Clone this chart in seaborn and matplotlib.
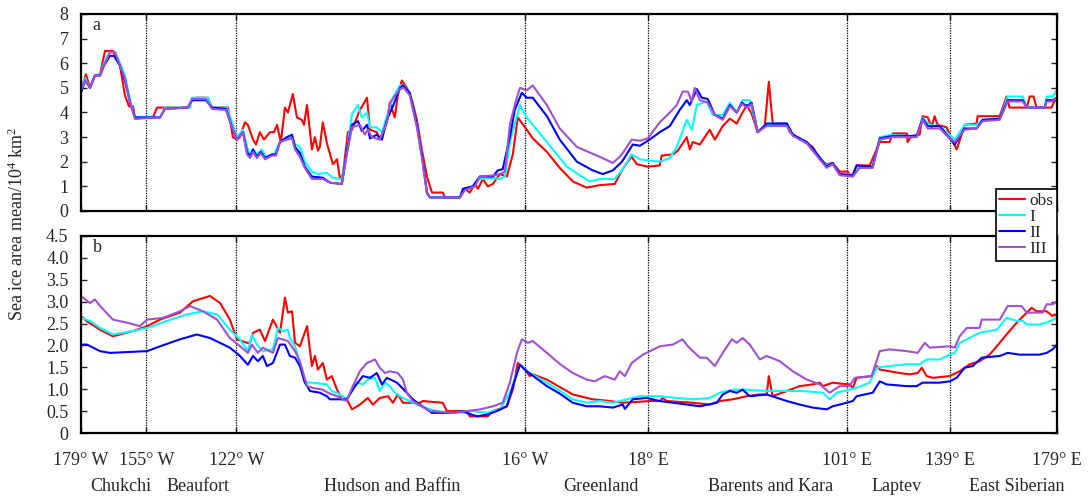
import matplotlib
matplotlib.use("Agg")
import matplotlib.pyplot as plt
import seaborn as sns
import pandas as pd

# ---------------- data (longitude in degrees, sea-ice area in 10^4 km^2) ----------------
a_obs_lon = [-179.0,-177.2,-175.7,-173.9,-172.0,-170.2,-167.3,-164.7,-162.9,-161.4,-159.9,-159.2,-152.6,-151.1,-139.8,-138.3,-136.8,-132.4,-131.0,-125.1,-123.3,-121.8,-120.7,-118.9,-117.8,-115.9,-114.8,-113.4,-111.9,-109.7,-108.2,-107.1,-105.7,-104.2,-103.1,-101.3,-99.8,-98.0,-97.2,-96.1,-94.3,-93.2,-92.1,-91.4,-90.3,-88.8,-86.6,-85.1,-84.0,-82.9,-81.1,-79.6,-76.7,-74.1,-73.0,-70.5,-69.4,-66.8,-65.7,-63.9,-62.8,-61.3,-59.5,-57.6,-55.8,-54.0,-52.1,-50.3,-46.3,-45.5,-40.0,-38.2,-36.4,-34.5,-33.4,-31.6,-29.8,-27.9,-25.4,-22.8,-20.6,-18.8,-15.5,-13.3,-8.1,-3.4,1.4,6.5,11.3,16.8,19.4,21.2,23.0,24.9,28.9,33.3,34.0,38.1,39.9,43.2,44.3,45.4,48.0,51.6,53.5,56.4,59.0,61.5,63.4,65.2,67.0,69.2,71.8,73.3,74.7,79.9,81.0,85.7,89.4,92.0,94.5,96.7,99.3,102.2,103.7,105.5,110.3,114.0,117.6,118.7,123.9,124.2,125.7,128.6,129.7,131.6,133.0,134.1,135.2,138.5,140.4,142.2,144.0,145.1,149.5,149.9,158.0,160.5,161.6,167.9,169.0,170.4,171.5,177.0,177.8,179.0]
a_obs = [4.9,5.55,5.0,5.5,5.55,6.5,6.5,5.9,4.7,4.25,4.25,3.75,3.8,4.2,4.2,4.5,4.6,4.6,4.2,4.2,3.0,2.9,3.0,3.6,3.5,2.9,2.7,3.2,2.9,3.2,3.2,3.5,2.8,4.2,4.0,4.75,3.8,3.7,3.5,4.3,2.5,3.0,2.45,2.6,3.6,2.75,1.9,2.1,1.3,1.5,3.2,3.3,4.1,4.6,3.3,3.2,2.9,3.6,4.4,3.8,4.7,5.3,5.0,4.5,3.7,2.5,1.4,0.75,0.75,0.55,0.55,0.9,0.75,1.1,0.9,1.3,1.0,1.1,1.5,1.4,2.3,3.8,3.3,2.95,2.4,1.75,1.2,0.95,1.05,1.1,1.65,1.95,2.2,1.9,1.8,1.85,2.25,2.3,2.45,3.0,2.5,2.8,2.7,3.3,2.9,3.45,3.75,3.55,3.95,4.3,3.95,3.2,3.45,5.25,3.55,3.55,3.2,2.85,2.6,2.1,1.9,1.95,1.6,1.6,1.4,1.85,1.85,2.8,2.8,3.15,3.15,2.8,3.05,3.1,3.85,3.8,3.4,3.85,3.5,3.4,2.9,2.5,3.1,3.5,3.55,3.85,3.85,4.65,4.2,4.2,4.65,4.65,4.2,4.2,4.4,4.6]

a_I_lon = [-179.0,-177.5,-175.7,-173.9,-172.0,-170.2,-168.4,-166.5,-164.7,-162.9,-161.0,-159.2,-150.0,-148.2,-139.0,-138.3,-132.4,-131.0,-125.5,-123.6,-121.8,-119.6,-118.1,-117.0,-115.9,-114.5,-112.6,-111.2,-108.2,-106.0,-103.5,-101.6,-100.5,-98.7,-96.9,-94.3,-92.1,-88.8,-86.6,-83.3,-81.5,-79.6,-77.4,-76.0,-74.1,-73.0,-70.5,-68.6,-66.4,-64.6,-62.0,-60.6,-58.4,-55.8,-54.0,-52.1,-51.0,-40.0,-38.9,-35.3,-33.4,-31.6,-29.0,-25.4,-23.5,-21.7,-18.0,-15.5,-10.7,-5.9,-0.8,4.0,7.6,11.3,16.8,19.7,23.0,26.0,33.3,37.0,39.5,43.2,45.0,46.9,50.5,52.7,56.4,59.0,61.5,63.7,66.3,69.2,72.5,79.9,82.1,87.2,94.5,96.7,99.3,104.1,106.6,111.4,114.0,118.7,127.5,129.7,132.3,136.0,138.5,141.5,145.1,149.5,151.7,158.0,160.9,166.4,167.9,174.5,175.2,177.4,179.0]
a_I = [5.0,5.4,5.0,5.5,5.55,6.1,6.45,6.45,6.0,5.5,4.5,3.8,3.8,4.2,4.2,4.6,4.6,4.2,4.2,3.6,3.0,3.3,2.6,2.3,2.5,2.3,2.5,2.2,2.3,2.8,2.95,3.0,2.7,2.6,2.0,1.6,1.5,1.55,1.35,1.3,2.4,3.95,4.3,3.8,4.0,3.4,3.4,3.2,4.0,4.6,5.1,5.1,4.8,3.5,2.3,0.75,0.55,0.55,0.9,1.0,1.3,1.3,1.35,1.3,1.4,2.8,4.3,3.8,3.15,2.5,1.8,1.45,1.2,1.3,1.3,1.7,2.3,2.1,2.0,2.15,2.6,3.7,3.3,4.3,4.45,3.9,3.9,4.4,4.0,4.5,4.5,3.2,3.55,3.55,3.1,2.8,1.85,1.95,1.5,1.5,1.8,1.8,3.0,3.1,3.0,3.8,3.5,3.45,3.2,2.9,3.5,3.5,3.7,3.75,4.65,4.65,4.2,4.2,4.65,4.65,4.9]

a_II_lon = [-179.0,-177.5,-175.7,-173.9,-172.0,-170.6,-168.4,-166.9,-164.7,-162.9,-161.0,-159.2,-150.0,-148.2,-139.8,-138.3,-133.2,-131.0,-125.8,-123.6,-121.8,-119.6,-118.1,-117.0,-115.9,-114.5,-113.0,-111.5,-109.0,-107.5,-106.0,-103.5,-101.6,-100.5,-98.7,-96.9,-94.3,-90.3,-87.7,-83.3,-81.5,-79.6,-77.4,-76.0,-74.1,-73.0,-70.5,-68.6,-66.8,-64.6,-62.0,-60.9,-58.4,-55.8,-54.0,-52.1,-51.0,-40.0,-38.9,-35.3,-32.7,-27.9,-26.1,-24.3,-21.7,-19.9,-17.3,-15.5,-13.3,-8.1,-3.4,2.9,8.7,12.4,16.1,19.4,23.4,26.0,28.9,33.3,37.0,40.6,43.2,44.3,46.9,48.7,50.9,53.5,56.4,59.0,61.5,63.4,65.2,67.0,69.2,72.5,79.9,82.1,87.2,89.4,94.5,96.7,99.3,104.1,105.5,111.4,114.0,118.7,127.5,129.7,131.6,136.0,139.6,141.5,145.1,149.5,151.7,158.0,160.9,166.4,167.9,174.5,175.2,177.4,179.0]
a_II = [4.8,5.3,5.0,5.5,5.5,5.9,6.3,6.3,5.9,5.3,4.4,3.8,3.8,4.15,4.2,4.5,4.5,4.2,4.15,3.4,2.9,3.2,2.4,2.2,2.5,2.2,2.4,2.15,2.3,2.3,2.8,3.0,3.1,2.6,2.35,1.8,1.4,1.35,1.15,1.1,2.4,3.5,3.65,3.25,3.5,2.95,3.1,2.9,3.7,4.25,5.0,5.1,4.8,3.5,2.3,0.75,0.55,0.55,0.9,1.0,1.4,1.4,1.65,1.7,3.0,4.1,4.8,4.6,4.6,3.85,2.9,2.0,1.65,1.5,1.65,2.0,2.7,2.65,2.85,3.2,3.45,4.1,4.5,4.3,4.95,4.6,4.55,3.9,3.75,4.3,4.0,4.4,4.25,4.4,3.2,3.55,3.55,3.1,2.8,2.55,1.8,1.95,1.5,1.45,1.85,1.8,2.95,3.05,3.05,3.75,3.45,3.45,2.95,2.7,3.35,3.35,3.7,3.75,4.5,4.5,4.2,4.2,4.5,4.5,4.6]

a_III_lon = [-179.0,-177.5,-175.7,-173.9,-172.0,-170.2,-168.4,-166.5,-164.7,-162.9,-161.0,-159.2,-150.0,-148.2,-139.8,-138.3,-133.2,-131.0,-125.8,-123.6,-121.8,-119.6,-118.1,-117.0,-115.9,-114.5,-113.0,-111.5,-109.0,-107.5,-106.0,-103.5,-101.6,-100.5,-98.7,-96.9,-94.3,-90.3,-87.7,-83.3,-81.5,-79.6,-76.7,-74.9,-73.8,-72.3,-69.4,-66.8,-65.7,-62.0,-60.6,-58.4,-55.8,-54.0,-52.1,-51.0,-40.0,-38.2,-34.5,-32.7,-27.2,-25.4,-23.5,-21.7,-19.9,-18.0,-15.5,-13.3,-8.1,-3.4,2.9,11.3,16.1,18.6,19.7,23.0,26.0,28.9,33.3,37.0,39.5,41.7,43.6,45.0,46.1,48.0,50.9,53.5,56.4,59.0,61.5,63.4,65.2,67.0,69.2,72.5,79.9,82.1,87.2,94.5,96.7,99.3,104.1,106.6,111.4,114.0,118.7,127.5,129.7,131.6,136.0,139.6,141.5,145.1,149.5,151.7,158.0,160.9,166.4,167.9,174.5,175.2,177.4,179.0]
a_III = [4.9,5.3,5.0,5.5,5.5,6.0,6.45,6.45,5.9,5.4,4.4,3.75,3.8,4.15,4.2,4.55,4.55,4.15,4.1,3.4,2.9,3.2,2.3,2.15,2.4,2.15,2.35,2.1,2.25,2.25,2.8,2.9,2.95,2.5,2.2,1.75,1.3,1.3,1.15,1.1,2.3,3.4,3.5,3.1,3.3,3.0,2.9,3.6,4.4,4.95,5.0,4.7,3.4,2.2,0.7,0.55,0.55,0.85,1.0,1.4,1.45,1.5,1.6,3.5,4.3,5.0,4.9,5.1,4.3,3.35,2.6,2.2,1.95,2.2,2.35,2.9,2.85,2.95,3.6,4.0,4.3,4.85,4.85,4.45,5.0,4.5,4.4,3.9,3.7,4.25,4.0,4.35,4.2,4.35,3.2,3.45,3.45,3.05,2.75,1.75,1.9,1.45,1.4,1.75,1.75,2.9,3.0,3.0,3.7,3.35,3.35,2.95,2.8,3.3,3.35,3.65,3.7,4.45,4.45,4.2,4.2,4.45,4.45,4.6]

b_obs_lon = [-179.0,-176.8,-172.0,-167.3,-159.9,-154.8,-150.0,-142.7,-137.9,-131.7,-128.0,-124.4,-121.8,-118.1,-117.0,-115.9,-113.4,-111.5,-108.6,-106.0,-104.2,-103.1,-101.6,-100.5,-98.7,-96.1,-94.3,-93.2,-92.1,-90.3,-88.8,-87.0,-85.1,-83.3,-81.5,-79.6,-76.7,-73.8,-71.9,-69.4,-66.4,-64.6,-62.8,-60.9,-54.7,-53.6,-46.3,-44.8,-37.5,-36.4,-29.8,-27.9,-22.8,-20.6,-18.8,-16.2,-14.4,-13.3,-8.1,-3.4,1.4,8.7,15.0,19.7,29.6,33.3,34.4,35.9,45.4,51.6,55.3,60.1,65.2,70.0,72.5,73.3,74.7,79.9,84.6,89.4,92.0,93.1,96.7,99.3,102.9,104.1,105.5,111.0,112.9,114.0,117.6,121.3,125.0,127.9,129.4,131.2,133.4,139.6,143.3,147.0,150.6,154.3,156.9,160.5,164.2,167.9,169.7,171.5,175.2,177.4,178.1,179.0]
b_obs = [2.67,2.55,2.36,2.21,2.33,2.44,2.59,2.75,3.01,3.13,2.97,2.59,2.14,2.06,2.06,2.29,2.36,2.10,2.59,2.29,3.09,2.75,2.78,2.06,1.98,2.44,1.53,1.76,1.45,1.60,1.22,1.30,0.99,0.77,0.77,0.54,0.65,0.80,0.65,0.80,0.84,0.69,0.88,0.69,0.69,0.73,0.69,0.50,0.50,0.38,0.38,0.50,0.61,0.99,1.60,1.45,1.30,1.34,1.22,1.05,0.88,0.77,0.73,0.69,0.73,0.73,0.80,0.73,0.69,0.65,0.73,0.77,0.84,0.88,0.88,1.30,0.84,0.96,1.07,1.11,1.15,1.07,1.15,1.13,1.11,1.03,1.26,1.30,1.53,1.45,1.41,1.37,1.34,1.37,1.49,1.30,1.26,1.30,1.41,1.57,1.64,1.79,1.98,2.25,2.52,2.75,2.86,2.78,2.78,2.67,2.71,2.67]

b_I_lon = [-179.0,-175.7,-172.0,-167.3,-159.9,-154.8,-147.5,-140.1,-134.3,-129.1,-124.4,-120.7,-117.8,-116.3,-114.5,-112.3,-108.6,-106.8,-104.9,-103.1,-102.4,-100.5,-98.7,-96.9,-93.9,-88.8,-87.0,-84.0,-81.5,-77.8,-75.6,-73.8,-71.2,-69.4,-67.5,-65.7,-63.9,-60.9,-58.4,-55.8,-51.0,-44.8,-40.0,-35.3,-30.1,-25.4,-21.7,-18.0,-14.4,-8.1,-3.4,1.4,6.5,11.3,16.1,21.2,26.0,33.3,39.5,45.4,51.6,55.3,60.1,65.2,72.5,79.9,85.7,93.1,95.6,98.2,102.9,105.5,110.3,112.9,117.6,123.9,128.6,131.2,136.0,139.6,141.5,143.3,145.9,150.6,156.9,160.5,164.2,166.4,167.9,172.6,175.2,177.4,179.0]
b_I = [2.63,2.56,2.40,2.25,2.33,2.40,2.56,2.71,2.78,2.71,2.36,2.14,1.87,2.25,2.02,1.87,1.91,2.40,2.33,2.36,2.17,1.98,1.60,1.15,1.15,1.11,0.96,0.88,0.77,1.15,1.11,1.22,1.26,0.96,1.15,1.07,0.92,0.80,0.73,0.65,0.54,0.46,0.46,0.50,0.46,0.54,0.92,1.56,1.37,1.15,0.97,0.77,0.69,0.73,0.69,0.77,0.84,0.84,0.80,0.77,0.80,0.92,0.99,0.99,0.96,0.96,0.96,0.92,0.77,0.92,0.99,1.03,1.15,1.49,1.53,1.57,1.57,1.68,1.68,1.79,1.83,2.06,2.14,2.29,2.36,2.63,2.56,2.56,2.48,2.48,2.52,2.59,2.63]

b_II_lon = [-179.0,-176.8,-172.0,-168.4,-154.8,-150.0,-142.7,-136.5,-131.7,-124.4,-120.7,-117.8,-115.9,-114.1,-112.3,-110.8,-108.6,-106.0,-104.2,-102.4,-100.5,-98.7,-96.9,-95.0,-91.4,-88.8,-87.7,-81.5,-78.5,-75.6,-73.0,-70.5,-68.6,-66.8,-63.1,-59.5,-57.3,-54.7,-50.3,-42.6,-39.3,-37.5,-33.8,-30.1,-26.5,-22.8,-20.6,-18.0,-15.5,-8.1,-3.4,1.4,6.5,11.3,16.1,19.7,20.5,23.4,28.5,33.3,43.2,48.0,54.2,56.4,59.0,61.5,63.7,66.3,72.5,79.9,84.6,89.4,94.5,96.7,99.3,104.1,105.5,111.4,114.0,116.5,123.9,127.5,129.7,136.0,139.6,142.2,145.1,148.1,151.4,158.0,160.9,165.3,172.6,175.2,177.4,179.0]
b_II = [2.02,2.02,1.87,1.83,1.87,1.98,2.14,2.25,2.17,1.95,1.76,1.56,1.76,1.64,1.76,1.53,1.60,2.02,2.02,1.76,1.72,1.53,1.15,0.96,0.92,0.84,0.77,0.77,1.07,1.30,1.26,1.37,1.11,1.26,1.15,0.92,0.77,0.65,0.46,0.46,0.50,0.46,0.38,0.42,0.50,0.61,1.07,1.56,1.41,1.07,0.90,0.69,0.61,0.61,0.58,0.65,0.55,0.77,0.80,0.73,0.65,0.61,0.69,0.88,0.96,0.92,0.99,0.84,0.88,0.73,0.65,0.58,0.54,0.61,0.65,0.73,0.84,0.92,1.18,1.11,1.07,1.07,1.15,1.15,1.18,1.26,1.49,1.53,1.72,1.76,1.83,1.79,1.79,1.83,1.91,2.02]

b_III_lon = [-179.0,-175.7,-173.9,-172.0,-167.3,-162.1,-157.4,-154.8,-148.9,-142.7,-139.0,-134.3,-129.1,-124.4,-121.4,-117.8,-116.3,-114.1,-112.3,-108.6,-106.8,-103.1,-100.5,-98.7,-96.1,-93.9,-90.3,-88.4,-85.1,-81.5,-79.6,-76.7,-74.1,-71.2,-69.4,-67.5,-65.7,-62.8,-60.9,-59.5,-57.3,-51.0,-42.6,-37.5,-32.7,-27.9,-24.3,-21.7,-19.1,-17.3,-15.1,-13.3,-8.1,-3.4,1.4,6.5,9.5,13.1,16.8,18.6,20.5,23.0,27.1,33.3,38.1,41.7,43.6,48.0,50.5,53.5,56.4,59.7,61.5,63.7,66.3,70.0,72.5,77.3,82.1,87.2,92.0,95.6,99.3,102.9,104.8,111.0,114.0,117.6,123.9,127.9,130.5,132.3,139.6,141.5,143.3,145.9,150.6,151.4,158.0,160.9,166.0,167.9,173.7,175.2,177.4,179.0]
b_III = [3.13,2.97,3.05,2.90,2.59,2.52,2.44,2.59,2.63,2.78,2.90,2.78,2.59,2.17,2.02,1.83,2.02,1.83,1.95,1.83,2.17,2.10,1.87,1.64,1.07,1.03,0.99,0.92,0.84,0.73,1.03,1.41,1.60,1.68,1.49,1.37,1.41,1.37,1.22,0.92,0.73,0.50,0.46,0.50,0.54,0.61,0.69,1.15,1.83,2.14,2.06,2.10,1.83,1.58,1.37,1.22,1.18,1.30,1.22,1.41,1.30,1.60,1.79,1.98,2.02,2.14,1.98,1.72,1.72,1.53,1.83,2.14,2.06,2.17,2.02,1.68,1.76,1.64,1.41,1.22,1.11,0.92,1.07,1.07,1.26,1.30,1.87,1.91,1.87,1.83,2.06,1.95,1.98,1.95,2.21,2.40,2.40,2.59,2.59,2.90,2.90,2.75,2.75,2.94,2.94,3.01]

series_names = ["obs", "I", "II", "III"]
series_colors = ["#ff0000", "#00ffff", "#0000ff", "#a050d2"]

boundary_lon = [-155, -122, -16, 29, 102, 139.6]
tick_lon = [-179, -155, -122, -16, 29, 102, 139.6, 179]
tick_labels = ["179° W", "155° W", "122° W", "16° W", "18° E", "101° E", "139° E", "179° E"]
region_names = ["Chukchi", "Beaufort", "Hudson and Baffin", "Greenland",
                "Barents and Kara", "Laptev", "East Siberian"]
region_lon = [-164.3, -136.1, -65.0, 11.7, 74.0, 120.2, 164.2]

a_yticks = [0, 1, 2, 3, 4, 5, 6, 7, 8]
a_ylabels = ["0", "1", "2", "3", "4", "5", "6", "7", "8"]
b_yticks = [0, 0.5, 1.0, 1.5, 2.0, 2.5, 3.0, 3.5, 4.0, 4.5]
b_ylabels = ["0", "0.5", "1.0", "1.5", "2.0", "2.5", "3.0", "3.5", "4.0", "4.5"]

# ---------------- style ----------------
sns.set_theme(style="ticks")
plt.rcParams["font.family"] = ["Liberation Serif", "DejaVu Serif"]
plt.rcParams["mathtext.fontset"] = "custom"
plt.rcParams["mathtext.rm"] = "Liberation Serif"
plt.rcParams["mathtext.it"] = "Liberation Serif:italic"
plt.rcParams["axes.linewidth"] = 1.6

fig = plt.figure(figsize=(10.88, 5.0), dpi=100)
ax_a = fig.add_axes([81 / 1088, 1 - 211 / 500, 976 / 1088, 197 / 500])
ax_b = fig.add_axes([81 / 1088, 1 - 433 / 500, 976 / 1088, 197 / 500])

panels = [
    (ax_a, [(a_obs_lon, a_obs), (a_I_lon, a_I), (a_II_lon, a_II), (a_III_lon, a_III)], (0, 8), a_yticks, a_ylabels, "a"),
    (ax_b, [(b_obs_lon, b_obs), (b_I_lon, b_I), (b_II_lon, b_II), (b_III_lon, b_III)], (0, 4.5), b_yticks, b_ylabels, "b"),
]

for ax, data, ylim, yt, yl, tag in panels:
    for (lon, val), name, col in zip(data, series_names, series_colors):
        df = pd.DataFrame({"lon": lon, "val": val})
        sns.lineplot(data=df, x="lon", y="val", ax=ax, color=col, linewidth=1.5,
                     label=name, estimator=None, sort=False, legend=False)
    for b in boundary_lon:
        ax.axvline(b, color="black", linestyle=(0, (1, 1)), linewidth=0.9, zorder=1)
    ax.set_xlim(-179, 179)
    ax.set_ylim(*ylim)
    ax.set_yticks(yt)
    ax.set_yticklabels(yl)
    ax.set_xticks(tick_lon)
    ax.set_xlabel("")
    ax.set_ylabel("")
    ax.tick_params(axis="y", direction="in", left=True, right=True, length=4, width=1.0,
                   labelsize=13, pad=9)
    ax.tick_params(axis="x", direction="in", top=True, bottom=True, length=4, width=1.0,
                   labelsize=13, pad=14)
    for s in ax.spines.values():
        s.set_linewidth(1.6)
        s.set_color("black")
    ax.text(0.012, 0.94, tag, transform=ax.transAxes, fontsize=13, ha="left", va="center")

ax_a.set_xticklabels([])
ax_b.set_xticklabels(tick_labels)

for name, lon in zip(region_names, region_lon):
    ax_b.text(lon, -0.27, name, transform=ax_b.get_xaxis_transform(), ha="center",
              va="center", fontsize=13)

fig.text(17 / 1088, 1 - 224 / 500, r"Sea ice area mean/10$^4$ km$^2$", rotation=90,
         ha="center", va="center", fontsize=13)

handles, labels = ax_a.get_legend_handles_labels()
leg = fig.legend(handles, labels, loc="upper right",
                 bbox_to_anchor=(1057 / 1088, 1 - 189 / 500), borderaxespad=0,
                 fontsize=12.5, frameon=True, fancybox=False, framealpha=1,
                 edgecolor="black", handlelength=1.5, handletextpad=0.25,
                 labelspacing=0.0, borderpad=0.2)
leg.get_frame().set_linewidth(1.2)

fig.savefig("out.png", dpi=100)
